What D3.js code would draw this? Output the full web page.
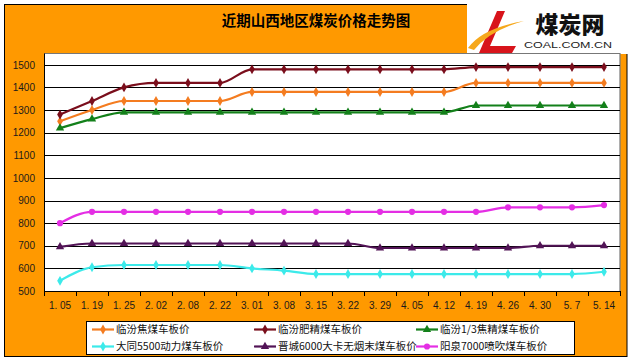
<html>
<head>
    <meta charset="utf-8">
    <style>
        body {margin:0; background:#fff;}
        text {font-family:"Liberation Sans", Arial, sans-serif;}
        .cjk {font-family:"Noto Sans CJK SC", sans-serif;}
    </style>
    <script src="https://d3js.org/d3.v7.min.js"></script>
</head>
<body>
    <script>
        // dates on the x axis
        var dates = ["1. 05","1. 19","1. 25","2. 02","2. 08","2. 22","3. 01","3. 08","3. 15",
                     "3. 22","3. 29","4. 05","4. 12","4. 19","4. 26","4. 30","5. 7","5. 14"];

        // one array per series
        var linfenJiao   = [1250,1300,1340,1340,1340,1340,1380,1380,1380,1380,1380,1380,1380,1420,1420,1420,1420,1420];
        var linfenFei    = [1280,1340,1400,1420,1420,1420,1480,1480,1480,1480,1480,1480,1480,1490,1490,1490,1490,1490];
        var linfenSan    = [1220,1260,1290,1290,1290,1290,1290,1290,1290,1290,1290,1290,1290,1320,1320,1320,1320,1320];
        var datong5500   = [545,605,615,615,615,615,600,590,575,575,575,575,575,575,575,575,575,585];
        var jincheng6000 = [695,710,710,710,710,710,710,710,710,710,690,690,690,690,690,700,700,700];
        var yangquan7000 = [800,850,850,850,850,850,850,850,850,850,850,850,850,850,870,870,870,880];

        var seriesNames = ["临汾焦煤车板价","临汾肥精煤车板价","临汾1/3焦精煤车板价",
                           "大同5500动力煤车板价","晋城6000大卡无烟末煤车板价","阳泉7000喷吹煤车板价"];
        var yTicks = [500,600,700,800,900,1000,1100,1200,1300,1400,1500];

        var title = "近期山西地区煤炭价格走势图";

        var series = [
            {name: seriesNames[0], values: linfenJiao,   color: "#F47C20", shape: "diamond"},
            {name: seriesNames[1], values: linfenFei,    color: "#7A0E1C", shape: "diamond"},
            {name: seriesNames[2], values: linfenSan,    color: "#13801A", shape: "triangle"},
            {name: seriesNames[3], values: datong5500,   color: "#3CEAEA", shape: "diamond"},
            {name: seriesNames[4], values: jincheng6000, color: "#521456", shape: "triangle"},
            {name: seriesNames[5], values: yangquan7000, color: "#E42EE4", shape: "circle"}
        ];

        var width = 632, height = 361;
        var plot = {left: 44, right: 620, top: 53.5, bottom: 291};

        var svg = d3.select("body").append("svg")
            .attr("width", width)
            .attr("height", height);

        // orange frame
        svg.append("rect")
            .attr("x", 4.5).attr("y", 4.5)
            .attr("width", 622.5).attr("height", 352)
            .attr("fill", "#FF9900")
            .attr("stroke", "#000");

        // logo box
        var logo = svg.append("g");
        logo.append("rect")
            .attr("x", 467).attr("y", 0)
            .attr("width", 165).attr("height", 54)
            .attr("fill", "#fff");
        logo.append("path")
            .attr("d", "M497,11 L505,11 L490,46 L516,46 L512,53 L479,53 Z")
            .attr("fill", "#D8141B");
        logo.append("path")
            .attr("d", "M468,48 Q482,28 524,21 Q490,30 474,50 Z")
            .attr("fill", "#F6A81C");
        logo.append("text")
            .attr("class", "cjk")
            .attr("x", 570).attr("y", 33)
            .attr("text-anchor", "middle")
            .attr("font-size", 23)
            .attr("font-weight", 900)
            .attr("fill", "#111")
            .text("煤炭网");
        logo.append("text")
            .attr("x", 524).attr("y", 48)
            .attr("font-size", 9.5)
            .attr("textLength", 88)
            .attr("lengthAdjust", "spacingAndGlyphs")
            .attr("fill", "#222")
            .text("COAL.COM.CN");

        // title
        svg.append("text")
            .attr("class", "cjk")
            .attr("x", 316).attr("y", 26)
            .attr("text-anchor", "middle")
            .attr("font-size", 14.5)
            .attr("font-weight", "bold")
            .attr("fill", "#000")
            .text(title);

        // scales
        var x = d3.scaleBand()
            .domain(dates)
            .range([plot.left, plot.right]);
        var y = d3.scaleLinear()
            .domain([500, 1550])
            .range([plot.bottom, plot.top]);
        var cx = function(i) { return x(dates[i]) + x.bandwidth() / 2; };

        // plot area
        svg.append("rect")
            .attr("x", plot.left).attr("y", plot.top)
            .attr("width", plot.right - plot.left)
            .attr("height", plot.bottom - plot.top)
            .attr("fill", "#fff");
        svg.append("path")
            .attr("d", `M${plot.left},${plot.top} H${plot.right} V${plot.bottom}`)
            .attr("fill", "none")
            .attr("stroke", "#777")
            .attr("stroke-width", 1.2);

        // grid lines
        svg.append("g")
            .selectAll("line")
            .data(yTicks)
            .join("line")
            .attr("x1", plot.left).attr("x2", plot.right)
            .attr("y1", d => Math.round(y(d)) + 0.5)
            .attr("y2", d => Math.round(y(d)) + 0.5)
            .attr("stroke", "#000");

        // y axis labels
        var yAxis = svg.append("g")
            .attr("transform", `translate(${plot.left},0)`)
            .call(d3.axisLeft(y).tickValues(yTicks).tickFormat(d3.format("d")).tickSize(0).tickPadding(9));
        yAxis.select(".domain").remove();
        yAxis.selectAll("text")
            .attr("font-size", 10)
            .attr("font-family", "Liberation Sans, Arial, sans-serif")
            .attr("fill", "#1a1a1a");

        // x axis: labels + ticks on band edges
        var xAxis = svg.append("g")
            .attr("transform", `translate(0,${plot.bottom})`)
            .call(d3.axisBottom(x).tickSize(0).tickPadding(11));
        xAxis.select(".domain").remove();
        xAxis.selectAll("text")
            .attr("font-size", 10)
            .attr("font-family", "Liberation Sans, Arial, sans-serif")
            .attr("fill", "#1a1a1a");

        var edges = dates.map(d => x(d)).concat([plot.right]);
        svg.append("g")
            .selectAll("line")
            .data(edges)
            .join("line")
            .attr("x1", d => Math.round(d) + 0.5).attr("x2", d => Math.round(d) + 0.5)
            .attr("y1", plot.bottom).attr("y2", plot.bottom + 5)
            .attr("stroke", "#000");

        svg.append("line")
            .attr("x1", plot.left + 0.5).attr("x2", plot.left + 0.5)
            .attr("y1", plot.top).attr("y2", plot.bottom)
            .attr("stroke", "#000");
        svg.append("line")
            .attr("x1", plot.left).attr("x2", plot.right)
            .attr("y1", plot.bottom + 0.5).attr("y2", plot.bottom + 0.5)
            .attr("stroke", "#000");

        // marker shapes
        var symbolType = {diamond: d3.symbolDiamond, triangle: d3.symbolTriangle, circle: d3.symbolCircle};
        var symbolSize = {diamond: 28, triangle: 30, circle: 30};

        var line = d3.line()
            .x((d, i) => cx(i))
            .y(d => y(d))
            .curve(d3.curveMonotoneX);

        var sg = svg.append("g")
            .selectAll("g")
            .data(series)
            .join("g");

        sg.append("path")
            .attr("d", d => line(d.values))
            .attr("fill", "none")
            .attr("stroke", d => d.color)
            .attr("stroke-width", 2.2);

        sg.each(function(s) {
            d3.select(this).selectAll("path.mk")
                .data(s.values)
                .join("path")
                .attr("class", "mk")
                .attr("transform", (d, i) => `translate(${cx(i)},${y(d)})`)
                .attr("d", d3.symbol().type(symbolType[s.shape]).size(symbolSize[s.shape]))
                .attr("fill", s.color);
        });

        // legend
        var legend = svg.append("g");
        legend.append("rect")
            .attr("x", 86.5).attr("y", 321.5)
            .attr("width", 488).attr("height", 33)
            .attr("fill", "#fff")
            .attr("stroke", "#000");

        var colX = [92, 254, 416];
        var rowY = [329.5, 346.5];

        var item = legend.selectAll("g")
            .data(series)
            .join("g")
            .attr("transform", (d, i) => `translate(${colX[i % 3]},${rowY[Math.floor(i / 3)]})`);

        item.append("line")
            .attr("x1", 0).attr("x2", 22)
            .attr("stroke", d => d.color)
            .attr("stroke-width", 2.2);
        item.append("path")
            .attr("transform", "translate(11,0)")
            .attr("d", d => d3.symbol().type(symbolType[d.shape]).size(symbolSize[d.shape])())
            .attr("fill", d => d.color);
        item.append("text")
            .attr("class", "cjk")
            .attr("x", 24)
            .attr("dy", "0.36em")
            .attr("font-size", 10.5)
            .attr("fill", "#111")
            .text(d => d.name);
    </script>
</body>
</html>
